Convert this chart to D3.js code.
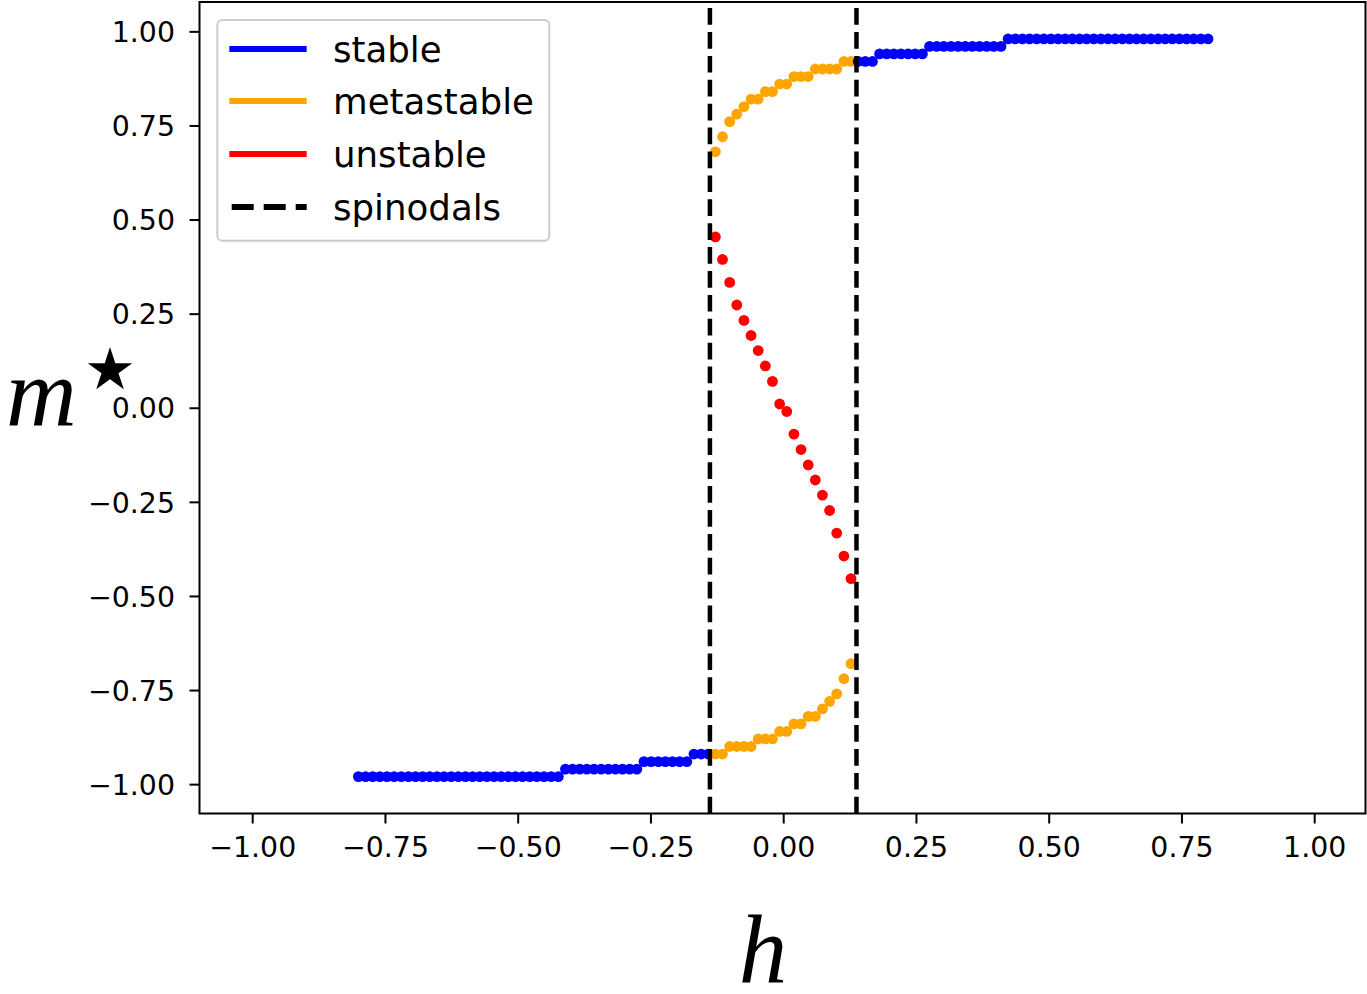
<!DOCTYPE html>
<html>
<head>
<meta charset="utf-8">
<script src="https://cdn.jsdelivr.net/npm/d3@7"></script>
<style>
  html, body { margin: 0; padding: 0; background: #ffffff; }
  svg { display: block; }
</style>
</head>
<body>
<svg id="chart" width="1367" height="994"></svg>
<script>
// ---------------- data ----------------
// field values h (grid of 120 points from -0.8 to 0.8)
const hValues = [
  -0.8000, -0.7866, -0.7731, -0.7597, -0.7462, -0.7328, -0.7193, -0.7059, -0.6924, -0.6790,
  -0.6655, -0.6521, -0.6387, -0.6252, -0.6118, -0.5983, -0.5849, -0.5714, -0.5580, -0.5445,
  -0.5311, -0.5176, -0.5042, -0.4908, -0.4773, -0.4639, -0.4504, -0.4370, -0.4235, -0.4101,
  -0.3966, -0.3832, -0.3697, -0.3563, -0.3429, -0.3294, -0.3160, -0.3025, -0.2891, -0.2756,
  -0.2622, -0.2487, -0.2353, -0.2218, -0.2084, -0.1950, -0.1815, -0.1681, -0.1546, -0.1412,
  -0.1277, -0.1143, -0.1008, -0.0874, -0.0739, -0.0605, -0.0471, -0.0336, -0.0202, -0.0067,
   0.0067,  0.0202,  0.0336,  0.0471,  0.0605,  0.0739,  0.0874,  0.1008,  0.1143,  0.1277,
   0.1412,  0.1546,  0.1681,  0.1815,  0.1950,  0.2084,  0.2218,  0.2353,  0.2487,  0.2622,
   0.2756,  0.2891,  0.3025,  0.3160,  0.3294,  0.3429,  0.3563,  0.3697,  0.3832,  0.3966,
   0.4101,  0.4235,  0.4370,  0.4504,  0.4639,  0.4773,  0.4908,  0.5042,  0.5176,  0.5311,
   0.5445,  0.5580,  0.5714,  0.5849,  0.5983,  0.6118,  0.6252,  0.6387,  0.6521,  0.6655,
   0.6790,  0.6924,  0.7059,  0.7193,  0.7328,  0.7462,  0.7597,  0.7731,  0.7866,  0.8000
];

// stable branch m* for every h (null inside the spinodal window)
const stableM = [
  -0.98, -0.98, -0.98, -0.98, -0.98, -0.98, -0.98, -0.98, -0.98, -0.98,
  -0.98, -0.98, -0.98, -0.98, -0.98, -0.98, -0.98, -0.98, -0.98, -0.98,
  -0.98, -0.98, -0.98, -0.98, -0.98, -0.98, -0.98, -0.98, -0.98, -0.96,
  -0.96, -0.96, -0.96, -0.96, -0.96, -0.96, -0.96, -0.96, -0.96, -0.96,
  -0.94, -0.94, -0.94, -0.94, -0.94, -0.94, -0.94, -0.92, -0.92, -0.92,
  null, null, null, null, null, null, null, null, null, null,
  null, null, null, null, null, null, null, null, null, null,
   0.92,  0.92,  0.92,  0.94,  0.94,  0.94,  0.94,  0.94,  0.94,  0.94,
   0.96,  0.96,  0.96,  0.96,  0.96,  0.96,  0.96,  0.96,  0.96,  0.96,
   0.96,  0.98,  0.98,  0.98,  0.98,  0.98,  0.98,  0.98,  0.98,  0.98,
   0.98,  0.98,  0.98,  0.98,  0.98,  0.98,  0.98,  0.98,  0.98,  0.98,
   0.98,  0.98,  0.98,  0.98,  0.98,  0.98,  0.98,  0.98,  0.98,  0.98
];

// h values inside the spinodal window (indices 50..69 of hValues)
const hWindow = [
  -0.1277, -0.1143, -0.1008, -0.0874, -0.0739, -0.0605, -0.0471, -0.0336, -0.0202, -0.0067,
   0.0067,  0.0202,  0.0336,  0.0471,  0.0605,  0.0739,  0.0874,  0.1008,  0.1143,  0.1277
];
const metaUpperM = [0.68, 0.72, 0.76, 0.78, 0.80, 0.82, 0.82, 0.84, 0.84, 0.86,
                    0.86, 0.88, 0.88, 0.88, 0.90, 0.90, 0.90, 0.90, 0.92, 0.92];
const metaLowerM = [-0.92, -0.92, -0.90, -0.90, -0.90, -0.90, -0.88, -0.88, -0.88, -0.86,
                    -0.86, -0.84, -0.84, -0.82, -0.82, -0.80, -0.78, -0.76, -0.72, -0.68];
const unstableM  = [0.454, 0.394, 0.333, 0.273, 0.232, 0.192, 0.152, 0.111, 0.070, 0.010,
                    -0.010, -0.070, -0.111, -0.152, -0.192, -0.232, -0.273, -0.333, -0.394, -0.454];

const spinodalH = [-0.138, 0.138];

const xTicks = [-1.00, -0.75, -0.50, -0.25, 0.00, 0.25, 0.50, 0.75, 1.00];
const yTicks = [-1.00, -0.75, -0.50, -0.25, 0.00, 0.25, 0.50, 0.75, 1.00];

const legendItems = [
  {label: "stable", color: "#0000ff", dash: null},
  {label: "metastable", color: "#ffa500", dash: null},
  {label: "unstable", color: "#ff0000", dash: null},
  {label: "spinodals", color: "#000000", dash: "22,10"}
];

// ---------------- layout ----------------
const L = 199.5, R = 1365.5, T = 2, B = 813.5;
const x = d3.scaleLinear().domain([-1, 1]).range([252.2, 1314.2]);
const y = d3.scaleLinear().domain([-1.078, 1.078]).range([B, T]);

const svg = d3.select("#chart");
svg.append("rect").attr("width", 1367).attr("height", 994).attr("fill", "#ffffff");

// ---------------- points ----------------
const pts = [];
hValues.forEach((h, i) => {
  if (stableM[i] !== null) pts.push({k: i, h: h, m: stableM[i], c: "#0000ff"});
});
hWindow.forEach((h, j) => {
  pts.push({k: 50 + j, h: h, m: metaUpperM[j], c: "#ffa500"});
  pts.push({k: 50 + j, h: h, m: unstableM[j], c: "#ff0000"});
  pts.push({k: 50 + j, h: h, m: metaLowerM[j], c: "#ffa500"});
});
pts.sort((a, b) => a.k - b.k);

svg.append("g").selectAll("circle").data(pts).join("circle")
  .attr("cx", d => x(d.h))
  .attr("cy", d => y(d.m))
  .attr("r", 5.4)
  .attr("fill", d => d.c);

// ---------------- spinodals ----------------
svg.append("g").selectAll("line").data(spinodalH).join("line")
  .attr("x1", d => x(d)).attr("x2", d => x(d))
  .attr("y1", B).attr("y2", T)
  .attr("stroke", "#000").attr("stroke-width", 4.5)
  .attr("stroke-dasharray", "16.7,7.2");

// ---------------- axes ----------------
const tickFont = "'DejaVu Sans', sans-serif";
const xAxis = d3.axisBottom(x).tickValues(xTicks).tickFormat(d3.format(".2f"))
  .tickSize(10).tickPadding(13.6).tickSizeOuter(0);
const gx = svg.append("g").attr("transform", `translate(0,${B})`).call(xAxis);
gx.select(".domain").remove();
gx.selectAll("line").attr("stroke", "#000").attr("stroke-width", 2);
gx.selectAll("text").attr("font-family", tickFont).attr("font-size", 28.4).attr("fill", "#000");

const yAxis = d3.axisLeft(y).tickValues(yTicks).tickFormat(d3.format(".2f"))
  .tickSize(10).tickPadding(14.5).tickSizeOuter(0);
const gy = svg.append("g").attr("transform", `translate(${L},0)`).call(yAxis);
gy.select(".domain").remove();
gy.selectAll("line").attr("stroke", "#000").attr("stroke-width", 2);
gy.selectAll("text").attr("font-family", tickFont).attr("font-size", 28.4)
  .attr("fill", "#000").attr("dy", "0.36em");

// frame
svg.append("rect").attr("x", L).attr("y", T).attr("width", R - L).attr("height", B - T)
  .attr("fill", "none").attr("stroke", "#000").attr("stroke-width", 2);

// ---------------- axis labels ----------------
svg.append("text").attr("x", 6).attr("y", 425)
  .attr("font-family", "'Liberation Serif', serif").attr("font-style", "italic")
  .attr("font-size", 98).attr("fill", "#000").text("m");
svg.append("text").attr("x", 110).attr("y", 369)
  .attr("text-anchor", "middle").attr("dominant-baseline", "central")
  .attr("font-family", "'DejaVu Sans', sans-serif")
  .attr("font-size", 58).attr("fill", "#000").text("★");

svg.append("text").attr("x", 763).attr("y", 982)
  .attr("text-anchor", "middle")
  .attr("font-family", "'Liberation Serif', serif").attr("font-style", "italic")
  .attr("font-size", 97).attr("fill", "#000").text("h");

// ---------------- legend ----------------
const lg = svg.append("g");
lg.append("rect").attr("x", 217.3).attr("y", 20).attr("width", 332).attr("height", 220.7)
  .attr("rx", 5).attr("ry", 5)
  .attr("fill", "#ffffff").attr("fill-opacity", 0.8)
  .attr("stroke", "#cccccc").attr("stroke-width", 2);
const rowY = [49, 101, 154, 207];
const rowBase = [61.7, 113.5, 166.7, 219.5];
legendItems.forEach((it, i) => {
  const ln = lg.append("line")
    .attr("x1", it.dash ? 231.7 : 229.3).attr("x2", 306.7)
    .attr("y1", rowY[i]).attr("y2", rowY[i])
    .attr("stroke", it.color).attr("stroke-width", 6);
  if (it.dash) ln.attr("stroke-dasharray", it.dash);
  lg.append("text").attr("x", 333).attr("y", rowBase[i])
    .attr("font-family", "'DejaVu Sans', sans-serif").attr("font-size", 35.6)
    .attr("fill", "#000").text(it.label);
});
</script>
</body>
</html>
